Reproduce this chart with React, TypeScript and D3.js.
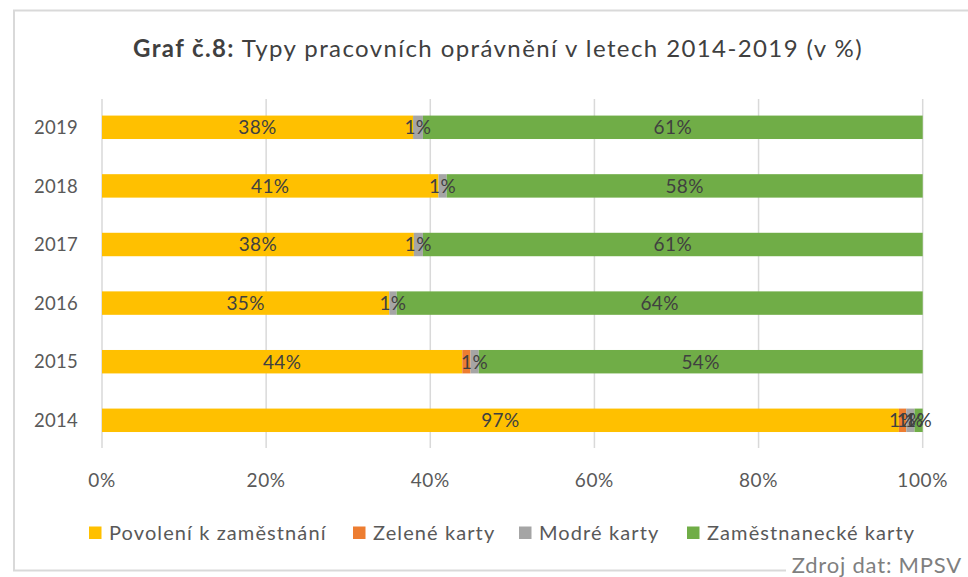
import React from "react";
import * as d3 from "d3";

const years = ["2019", "2018", "2017", "2016", "2015", "2014"];
const seriesNames = ["Povolení k zaměstnání", "Zelené karty", "Modré karty", "Zaměstnanecké karty"];
const seriesColors = ["#FFC000", "#ED7D31", "#A5A5A5", "#70AD47"];
const povoleni = [37.9, 41.0, 38.0, 35.0, 43.9, 97.1];
const zelene = [0, 0, 0, 0, 1.0, 0.9];
const modre = [1.2, 1.0, 1.1, 0.9, 1.0, 1.0];
const zamestnanecke = [60.9, 58.0, 60.9, 64.1, 54.1, 1.0];
const labelPovoleni = ["38%", "41%", "38%", "35%", "44%", "97%"];
const labelZelene = ["", "", "", "", "", "1%"];
const labelModre = ["1%", "1%", "1%", "1%", "1%", "1%"];
const labelZam = ["61%", "58%", "61%", "64%", "54%", "1%"];
const xTicks = [0, 20, 40, 60, 80, 100];

const FONT = "Lato, 'Open Sans', sans-serif";

export default function App() {
  const x = d3.scaleLinear().domain([0, 100]).range([102, 922.7]);
  const y = d3.scaleBand<string>().domain(years).range([98, 449.6]).paddingInner(0.6).paddingOuter(0.3);
  const series = [povoleni, zelene, modre, zamestnanecke];
  const labels = [labelPovoleni, labelZelene, labelModre, labelZam];
  const rows = years.map((yr, i) => {
    const vals = series.map((s) => s[i]);
    const stack: { x0: number; x1: number; c: string; label: string }[] = [];
    let acc = 0;
    vals.forEach((v, k) => {
      stack.push({ x0: acc, x1: acc + v, c: seriesColors[k], label: labels[k][i] });
      acc += v;
    });
    return { yr, stack };
  });
  const legendX = [89, 353, 519, 687];
  return (
    <svg width={968} height={577} style={{ position: "absolute", left: 0, top: 0, background: "#fff" }} fontFamily={FONT}>
      <rect x={0} y={0} width={968} height={577} fill="#fff" />
      <rect x={14} y={10.5} width={1000} height={560} fill="none" stroke="#d9d9d9" strokeWidth={2} />
      <text x={498} y={57} textAnchor="middle" fontSize={24} letterSpacing={1.4} fill="#404040">
        <tspan fontWeight="bold">Graf č.8:</tspan>
        <tspan> Typy pracovních oprávnění v letech 2014-2019  (v %)</tspan>
      </text>
      {xTicks.map((t) => (
        <line key={t} x1={x(t)} x2={x(t)} y1={99} y2={448} stroke="#d9d9d9" strokeWidth={1.5} />
      ))}
      {rows.map((r) => (
        <g key={r.yr}>
          {r.stack.map((s, k) =>
            s.x1 > s.x0 ? (
              <rect key={k} x={x(s.x0)} y={y(r.yr)!} width={x(s.x1) - x(s.x0)} height={y.bandwidth()} fill={s.c} />
            ) : null
          )}
          {r.stack.map((s, k) =>
            s.label ? (
              <text key={"l" + k} x={(x(s.x0) + x(s.x1)) / 2} y={y(r.yr)! + y.bandwidth() / 2} dy="0.36em" textAnchor="middle" fontSize={19} letterSpacing={0.4} fill="#404040">
                {s.label}
              </text>
            ) : null
          )}
          <text x={78} y={y(r.yr)! + y.bandwidth() / 2} dy="0.36em" textAnchor="end" fontSize={18.5} letterSpacing={0.3} fill="#595959">
            {r.yr}
          </text>
        </g>
      ))}
      {xTicks.map((t) => (
        <text key={"t" + t} x={x(t)} y={480} dy="0.36em" textAnchor="middle" fontSize={19} letterSpacing={0.6} fill="#595959">
          {t}%
        </text>
      ))}
      {seriesNames.map((n, k) => (
        <g key={n}>
          <rect x={legendX[k]} y={526.5} width={12.5} height={12.5} fill={seriesColors[k]} />
          <text x={legendX[k] + 20} y={533} dy="0.36em" fontSize={20} letterSpacing={1.1} fill="#595959">
            {n}
          </text>
        </g>
      ))}
      <rect x={786} y={553} width={182} height={24} fill="#fff" />
      <text x={962} y={565} dy="0.36em" textAnchor="end" fontSize={22} letterSpacing={0.8} fill="#7f7f7f">
        Zdroj dat: MPSV
      </text>
    </svg>
  );
}
